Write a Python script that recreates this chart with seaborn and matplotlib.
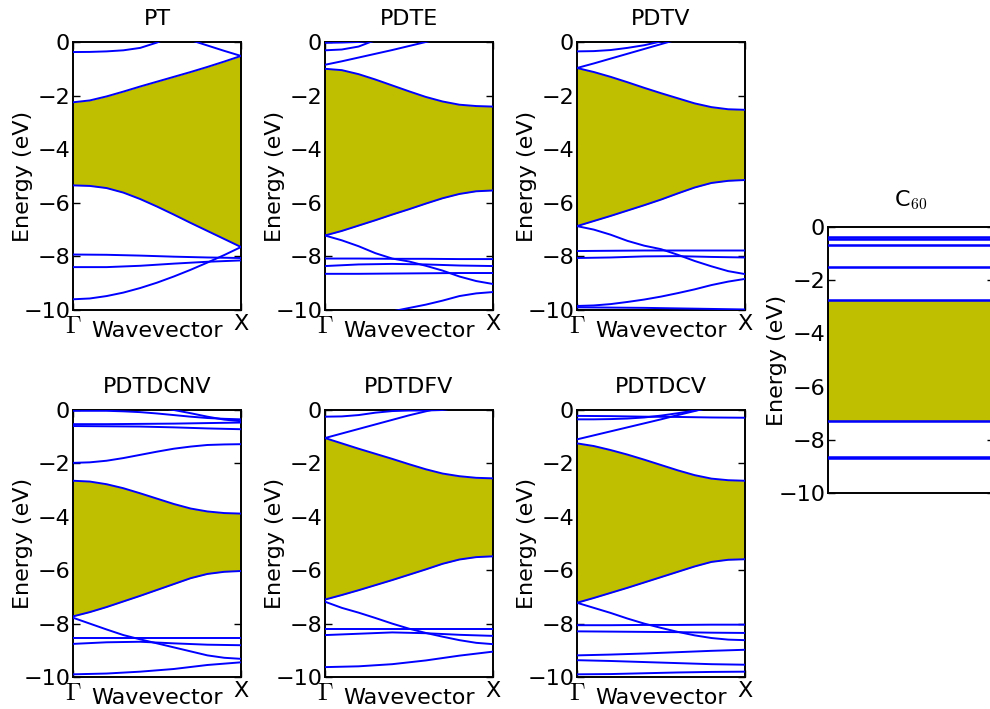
import matplotlib
matplotlib.use("Agg")
import matplotlib.pyplot as plt
import seaborn as sns

# ---------------- data ----------------
K = [0.0, 0.1, 0.2, 0.3, 0.4, 0.5, 0.6, 0.7, 0.8, 0.9, 1.0]
K6 = [0.0, 0.2, 0.4, 0.6, 0.8, 1.0]

# PT
PT_cb = [-2.25, -2.18, -2.03, -1.85, -1.66, -1.48, -1.30, -1.12, -0.93, -0.73, -0.52]
PT_vb = [-5.35, -5.37, -5.45, -5.62, -5.86, -6.14, -6.44, -6.75, -7.05, -7.35, -7.65]
PT_t1_k = [0.0, 0.1, 0.2, 0.3, 0.4, 0.5, 0.6]
PT_t1 = [-0.375, -0.37, -0.35, -0.31, -0.22, -0.02, 0.25]
PT_t2_k = [0.7, 0.8, 0.9, 1.0]
PT_t2 = [0.07, -0.13, -0.33, -0.52]
PT_b1 = [-7.93, -7.94, -7.97, -8.01, -8.04, -8.06]
PT_b2 = [-8.40, -8.40, -8.35, -8.27, -8.20, -8.15]
PT_b3 = [-9.60, -9.57, -9.48, -9.35, -9.18, -8.98, -8.75, -8.50, -8.23, -7.95, -7.65]

# PDTE
PDTE_cb = [-1.00, -1.05, -1.20, -1.40, -1.62, -1.84, -2.05, -2.22, -2.34, -2.39, -2.41]
PDTE_vb = [-7.22, -7.05, -6.85, -6.65, -6.44, -6.24, -6.03, -5.83, -5.67, -5.57, -5.54]
PDTE_t1_k = [0.0, 0.1, 0.2, 0.3]
PDTE_t1 = [-0.03, -0.02, 0.0, 0.05]
PDTE_t2_k = [0.0, 0.1, 0.2, 0.27, 0.35]
PDTE_t2 = [-0.31, -0.28, -0.17, 0.0, 0.15]
PDTE_t3_k = [0.0, 0.1, 0.2, 0.3, 0.4, 0.5, 0.6, 0.7]
PDTE_t3 = [-0.85, -0.72, -0.58, -0.44, -0.30, -0.15, 0.0, 0.15]
PDTE_d1 = [-7.22, -7.40, -7.62, -7.88, -8.08, -8.19, -8.35, -8.53, -8.75, -8.92, -9.03]
PDTE_f1 = [-8.08, -8.08, -8.09, -8.09, -8.10, -8.10]
PDTE_f2 = [-8.36, -8.30, -8.28, -8.30, -8.34, -8.36]
PDTE_f3 = [-8.65, -8.65, -8.64, -8.63, -8.62, -8.62]
PDTE_bt_k = [0.3, 0.44, 0.6, 0.7, 0.8, 0.9, 1.0]
PDTE_bt = [-10.2, -10.0, -9.80, -9.65, -9.48, -9.38, -9.33]

# PDTV
PDTV_cb = [-0.97, -1.12, -1.30, -1.50, -1.71, -1.91, -2.10, -2.29, -2.43, -2.51, -2.53]
PDTV_vb = [-6.87, -6.68, -6.49, -6.29, -6.09, -5.88, -5.65, -5.43, -5.26, -5.18, -5.15]
PDTV_t1_k = [0.0, 0.1, 0.2, 0.3, 0.4, 0.5, 0.6]
PDTV_t1 = [-0.35, -0.34, -0.30, -0.22, -0.12, 0.02, 0.20]
PDTV_t2_k = [0.0, 0.1, 0.2, 0.3, 0.4, 0.5, 0.6]
PDTV_t2 = [-0.97, -0.80, -0.62, -0.44, -0.26, -0.08, 0.10]
PDTV_d1 = [-6.87, -7.00, -7.19, -7.42, -7.60, -7.73, -7.94, -8.17, -8.37, -8.55, -8.66]
PDTV_f1 = [-7.80, -7.79, -7.78, -7.78, -7.78, -7.78]
PDTV_f2 = [-8.06, -8.04, -8.00, -7.99, -8.02, -8.04]
PDTV_b1 = [-9.85, -9.83, -9.78, -9.70, -9.61, -9.50, -9.37, -9.23, -9.07, -8.94, -8.84]
PDTV_b2 = [-9.90, -9.91, -9.92, -9.94, -9.96, -9.98]

# PDTDCNV
PDTDCNV_cb = [-2.65, -2.68, -2.78, -2.93, -3.12, -3.32, -3.52, -3.69, -3.80, -3.86, -3.88]
PDTDCNV_vb = [-7.73, -7.57, -7.38, -7.17, -6.96, -6.74, -6.52, -6.30, -6.14, -6.06, -6.03]
PDTDCNV_m = [-1.98, -1.96, -1.90, -1.80, -1.68, -1.56, -1.45, -1.37, -1.31, -1.29, -1.28]
PDTDCNV_t1 = [-0.03, -0.03, -0.03, -0.05, -0.08, -0.13, -0.19, -0.25, -0.30, -0.33, -0.35]
PDTDCNV_t2_k = [0.5, 0.6, 0.7, 0.8, 0.9, 1.0]
PDTDCNV_t2 = [0.10, 0.0, -0.12, -0.25, -0.36, -0.42]
PDTDCNV_t3 = [-0.53, -0.53, -0.52, -0.51, -0.49, -0.47]
PDTDCNV_t4 = [-0.60, -0.61, -0.62, -0.65, -0.69, -0.72]
PDTDCNV_d1 = [-7.78, -8.00, -8.22, -8.43, -8.59, -8.74, -8.89, -9.04, -9.19, -9.28, -9.32]
PDTDCNV_f1 = [-8.53, -8.53, -8.53, -8.53, -8.53, -8.53]
PDTDCNV_f2 = [-8.76, -8.70, -8.68, -8.74, -8.79, -8.81]
PDTDCNV_b1 = [-9.90, -9.87, -9.80, -9.70, -9.55, -9.45]

# PDTDFV
PDTDFV_cb = [-1.05, -1.25, -1.45, -1.64, -1.83, -2.03, -2.22, -2.38, -2.48, -2.54, -2.56]
PDTDFV_vb = [-7.10, -6.93, -6.75, -6.56, -6.37, -6.17, -5.97, -5.76, -5.60, -5.51, -5.48]
PDTDFV_t1_k = [0.0, 0.1, 0.2, 0.3, 0.4, 0.5, 0.6, 0.7, 0.75]
PDTDFV_t1 = [-0.25, -0.24, -0.19, -0.10, -0.04, -0.02, -0.02, 0.0, 0.05]
PDTDFV_t2_k = [0.0, 0.1, 0.2, 0.3, 0.4, 0.5, 0.6, 0.7]
PDTDFV_t2 = [-1.05, -0.88, -0.71, -0.54, -0.37, -0.20, -0.05, 0.10]
PDTDFV_d1 = [-7.18, -7.41, -7.59, -7.79, -8.00, -8.19, -8.35, -8.49, -8.62, -8.72, -8.77]
PDTDFV_f1 = [-8.20, -8.20, -8.20, -8.20, -8.20, -8.20]
PDTDFV_f2 = [-8.43, -8.38, -8.33, -8.36, -8.42, -8.46]
PDTDFV_b1 = [-9.63, -9.60, -9.52, -9.38, -9.20, -9.05]

# PDTDCV
PDTDCV_cb = [-1.25, -1.35, -1.50, -1.67, -1.86, -2.06, -2.26, -2.44, -2.57, -2.63, -2.65]
PDTDCV_vb = [-7.22, -7.04, -6.85, -6.66, -6.46, -6.26, -6.06, -5.86, -5.69, -5.61, -5.59]
PDTDCV_t0 = [-0.22, -0.23, -0.25, -0.26, -0.28, -0.29]
PDTDCV_t1_k = [0.0, 0.1, 0.2, 0.3, 0.4, 0.5, 0.6, 0.7, 0.8]
PDTDCV_t1 = [-0.35, -0.35, -0.34, -0.32, -0.28, -0.21, -0.12, -0.02, 0.08]
PDTDCV_t2_k = [0.0, 0.1, 0.2, 0.3, 0.4, 0.5, 0.6, 0.7, 0.8]
PDTDCV_t2 = [-1.10, -0.95, -0.80, -0.65, -0.50, -0.35, -0.19, -0.04, 0.12]
PDTDCV_d1 = [-7.22, -7.41, -7.60, -7.81, -8.00, -8.16, -8.31, -8.44, -8.54, -8.60, -8.62]
PDTDCV_f1 = [-8.06, -8.06, -8.05, -8.05, -8.04, -8.04]
PDTDCV_f2 = [-8.29, -8.30, -8.31, -8.32, -8.34, -8.35]
PDTDCV_b1 = [-9.19, -9.16, -9.12, -9.07, -9.02, -8.98]
PDTDCV_b2 = [-9.37, -9.40, -9.44, -9.48, -9.52, -9.54]
PDTDCV_b3 = [-9.90, -9.89, -9.86, -9.83, -9.81, -9.80]

# C60 molecular levels
C60_levels = [-0.38, -0.45, -0.66, -1.52, -2.75, -7.31, -8.63, -8.68]
C60_lumo = -2.75
C60_homo = -7.31

TITLES = ["PT", "PDTE", "PDTV", "PDTDCNV", "PDTDFV", "PDTDCV"]
Y_TICKS = [0, -2, -4, -6, -8, -10]
X_TICKS = [0, 1]
X_TICKLABELS = [r"$\Gamma$", "X"]

# ---------------- style ----------------
sns.set_style("ticks")
plt.rcParams["font.family"] = ["DejaVu Sans"]
plt.rcParams["mathtext.fontset"] = "cm"
plt.rcParams["font.size"] = 16
plt.rcParams["text.color"] = "black"
plt.rcParams["axes.labelcolor"] = "black"
plt.rcParams["xtick.color"] = "black"
plt.rcParams["ytick.color"] = "black"

BLUE = (0.0, 0.0, 1.0)
OLIVE = (0.75, 0.75, 0.0)
LW = 1.4
FS = 16

panels = [
    ("PT", PT_cb, PT_vb,
     [(PT_t1_k, PT_t1), (PT_t2_k, PT_t2), (K6, PT_b1), (K6, PT_b2), (K, PT_b3)]),
    ("PDTE", PDTE_cb, PDTE_vb,
     [(PDTE_t1_k, PDTE_t1), (PDTE_t2_k, PDTE_t2), (PDTE_t3_k, PDTE_t3), (K, PDTE_d1),
      (K6, PDTE_f1), (K6, PDTE_f2), (K6, PDTE_f3), (PDTE_bt_k, PDTE_bt)]),
    ("PDTV", PDTV_cb, PDTV_vb,
     [(PDTV_t1_k, PDTV_t1), (PDTV_t2_k, PDTV_t2), (K, PDTV_d1), (K6, PDTV_f1),
      (K6, PDTV_f2), (K, PDTV_b1), (K6, PDTV_b2)]),
    ("PDTDCNV", PDTDCNV_cb, PDTDCNV_vb,
     [(K, PDTDCNV_m), (K, PDTDCNV_t1), (PDTDCNV_t2_k, PDTDCNV_t2), (K6, PDTDCNV_t3),
      (K6, PDTDCNV_t4), (K, PDTDCNV_d1), (K6, PDTDCNV_f1), (K6, PDTDCNV_f2), (K6, PDTDCNV_b1)]),
    ("PDTDFV", PDTDFV_cb, PDTDFV_vb,
     [(PDTDFV_t1_k, PDTDFV_t1), (PDTDFV_t2_k, PDTDFV_t2), (K, PDTDFV_d1), (K6, PDTDFV_f1),
      (K6, PDTDFV_f2), (K6, PDTDFV_b1)]),
    ("PDTDCV", PDTDCV_cb, PDTDCV_vb,
     [(K6, PDTDCV_t0), (PDTDCV_t1_k, PDTDCV_t1), (PDTDCV_t2_k, PDTDCV_t2), (K, PDTDCV_d1),
      (K6, PDTDCV_f1), (K6, PDTDCV_f2), (K6, PDTDCV_b1), (K6, PDTDCV_b2), (K6, PDTDCV_b3)]),
]

W, H = 990, 709
fig = plt.figure(figsize=(W / 100, H / 100), dpi=100)

col_left = [73, 325, 577]
row_top = [42, 410]
row_bot = [310, 677]
AX_W = 168


def style_axis(ax, title, tpad):
    ax.set_ylim(-10, 0)
    ax.set_xlim(0, 1)
    ax.set_yticks(Y_TICKS)
    ax.tick_params(axis="both", direction="in", length=5, width=1.0,
                   left=True, right=True, top=True, bottom=True,
                   labelsize=FS, colors="black")
    ax.tick_params(axis="y", pad=2)
    ax.tick_params(axis="x", pad=3)
    for s in ax.spines.values():
        s.set_visible(True)
        s.set_linewidth(1.4)
        s.set_color("black")
    ax.set_title(title, fontsize=FS, pad=tpad, color="black")
    ax.set_ylabel("Energy (eV)", fontsize=FS, color="black")
    ax.yaxis.set_label_coords(-40 / AX_W, 0.5)


for i, (title, cb, vb, bands) in enumerate(panels):
    r, c = divmod(i, 3)
    left = col_left[c] / W
    bottom = 1 - row_bot[r] / H
    height = (row_bot[r] - row_top[r]) / H
    ax = fig.add_axes([left, bottom, AX_W / W, height])
    ax.fill_between(K, vb, cb, color=OLIVE, linewidth=0, zorder=1)
    for kk, ee in [(K, cb), (K, vb)] + bands:
        sns.lineplot(x=kk, y=ee, ax=ax, color=BLUE, linewidth=LW,
                     estimator=None, sort=False, zorder=3)
    style_axis(ax, title, 12)
    ax.set_xticks(X_TICKS)
    ax.set_xticklabels(X_TICKLABELS)
    ax.get_xticklabels()[0].set_fontsize(18)
    ax.set_xlabel("Wavevector", fontsize=FS, color="black")
    ax.xaxis.set_label_coords(0.5, -11 / (row_bot[r] - row_top[r]))

# C60 panel
axc = fig.add_axes([828 / W, 1 - 493 / H, 166 / W, 266 / H])
axc.fill_between([0, 1], [C60_homo, C60_homo], [C60_lumo, C60_lumo],
                 color=OLIVE, linewidth=0, zorder=1)
for lev in C60_levels:
    sns.lineplot(x=[0, 1], y=[lev, lev], ax=axc, color=BLUE, linewidth=LW * 1.3,
                 estimator=None, sort=False, zorder=3)
style_axis(axc, r"C$_{60}$", 15)
axc.set_xticks([])
axc.set_xlabel("")
axc.yaxis.set_label_coords(-41 / 166, 0.5)

fig.savefig("out.png", dpi=100)
